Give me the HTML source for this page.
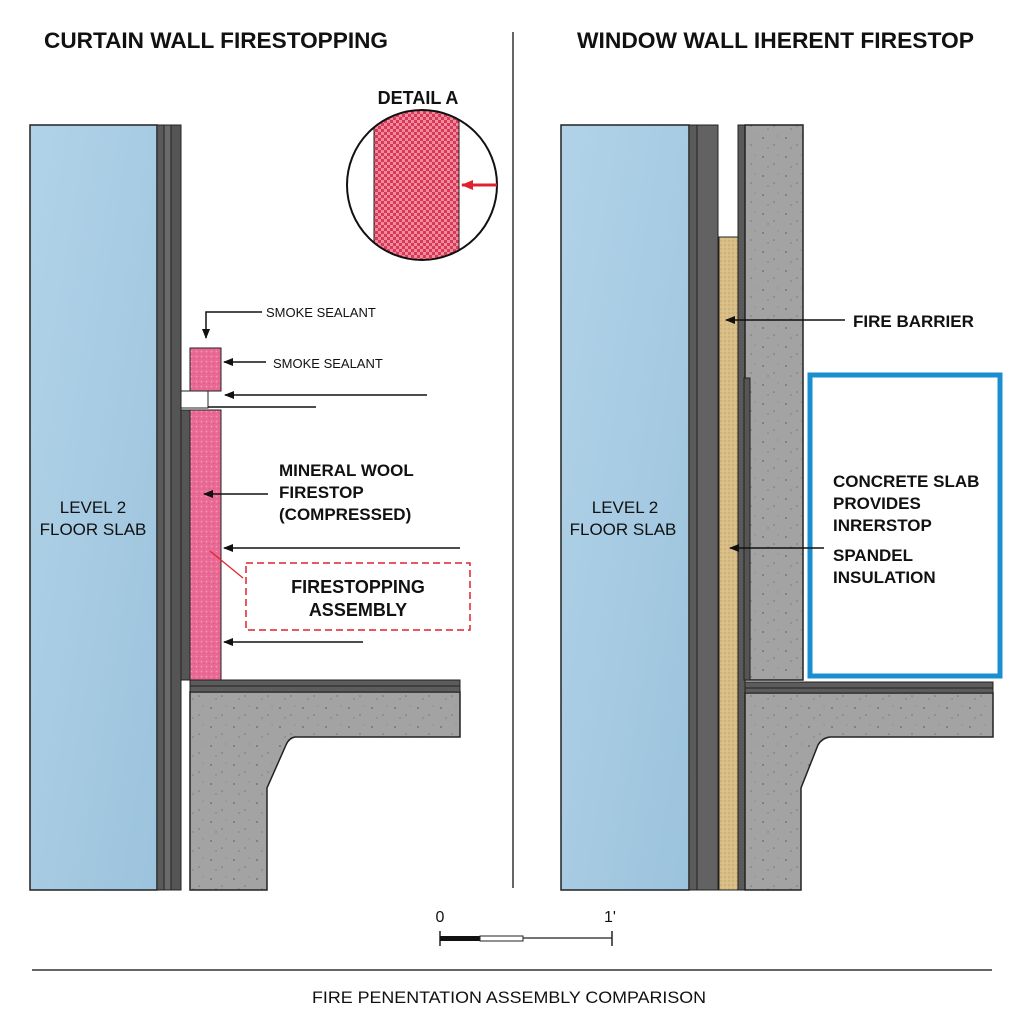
<!DOCTYPE html>
<html><head><meta charset="utf-8"><style>html,body{margin:0;padding:0;background:#fff}svg{display:block}text{font-family:"Liberation Sans",sans-serif;fill:#111}</style></head>
<body>
<svg width="1024" height="1024" viewBox="0 0 1024 1024" xmlns="http://www.w3.org/2000/svg">
<defs>
<linearGradient id="gl" x1="0" y1="0" x2="1" y2="1"><stop offset="0" stop-color="#b1d3e8"/><stop offset="1" stop-color="#9cc3dd"/></linearGradient>
<pattern id="spk" width="23" height="19" patternUnits="userSpaceOnUse"><rect width="23" height="19" fill="#a3a3a3"/><circle cx="4" cy="5" r="0.9" fill="#666"/><circle cx="15" cy="12" r="0.8" fill="#777"/><circle cx="19" cy="3" r="0.6" fill="#888"/><circle cx="9" cy="15" r="0.6" fill="#6a6a6a"/></pattern>
<pattern id="pk" width="5" height="5" patternUnits="userSpaceOnUse"><rect width="5" height="5" fill="#e96b95"/><circle cx="1.5" cy="1.5" r="0.8" fill="#f59bbb"/><circle cx="4" cy="3.5" r="0.6" fill="#d85582"/></pattern>
<pattern id="chk" width="6" height="6" patternUnits="userSpaceOnUse"><rect width="6" height="6" fill="#f08aa0"/><rect width="3" height="3" fill="#d83a55"/><rect x="3" y="3" width="3" height="3" fill="#d83a55"/></pattern>
<pattern id="tan" width="4" height="4" patternUnits="userSpaceOnUse"><rect width="4" height="4" fill="#d8bd85"/><circle cx="1" cy="1" r="0.6" fill="#b89a5e"/><circle cx="3" cy="3" r="0.5" fill="#e8d3a4"/></pattern>
<marker id="ar" markerWidth="10" markerHeight="8" refX="9" refY="4" orient="auto" markerUnits="userSpaceOnUse"><path d="M0,0 L10,4 L0,8 Z" fill="#111"/></marker>
<marker id="arr" markerWidth="12" markerHeight="10" refX="11" refY="5" orient="auto" markerUnits="userSpaceOnUse"><path d="M0,0 L12,5 L0,10 Z" fill="#e0202f"/></marker>
</defs>

<!-- titles -->
<text x="44" y="48" font-size="22" font-weight="bold" textLength="344" lengthAdjust="spacingAndGlyphs">CURTAIN WALL FIRESTOPPING</text>
<text x="577" y="48" font-size="22" font-weight="bold" textLength="397" lengthAdjust="spacingAndGlyphs">WINDOW WALL IHERENT FIRESTOP</text>
<line x1="513" y1="32" x2="513" y2="888" stroke="#333" stroke-width="1.5"/>

<!-- LEFT -->
<rect x="30" y="125" width="127" height="765" fill="url(#gl)" stroke="#222" stroke-width="1.5"/>
<rect x="157" y="125" width="7" height="765" fill="#5a5a5a" stroke="#222" stroke-width="1"/>
<rect x="164" y="125" width="7" height="765" fill="#6a6a6a" stroke="#222" stroke-width="1"/>
<rect x="171" y="125" width="10" height="765" fill="#555" stroke="#222" stroke-width="1"/>
<text x="93" y="513" font-size="17" text-anchor="middle">LEVEL 2</text>
<text x="93" y="535" font-size="17" text-anchor="middle">FLOOR SLAB</text>

<rect x="190" y="348" width="31" height="43" fill="url(#pk)" stroke="#222" stroke-width="1"/>
<rect x="181" y="391" width="27" height="17" fill="#fff" stroke="#222" stroke-width="1"/>
<rect x="181" y="410" width="9" height="270" fill="#555" stroke="#222" stroke-width="1"/>
<rect x="190" y="410" width="31" height="270" fill="url(#pk)" stroke="#222" stroke-width="1"/>

<path d="M190,692 H460 V737 H295 Q289,738 286,745 L267,788 V890 H190 Z" fill="url(#spk)" stroke="#222" stroke-width="1.5"/>
<rect x="190" y="680" width="270" height="12" fill="#5c5c5c" stroke="#222" stroke-width="1"/>
<line x1="190" y1="686" x2="460" y2="686" stroke="#222" stroke-width="1"/>

<polyline points="262,312 206,312 206,338" fill="none" stroke="#111" stroke-width="1.5" marker-end="url(#ar)"/>
<text x="266" y="317" font-size="13">SMOKE SEALANT</text>
<line x1="266" y1="362" x2="224" y2="362" stroke="#111" stroke-width="1.5" marker-end="url(#ar)"/>
<text x="273" y="368" font-size="13">SMOKE SEALANT</text>
<line x1="427" y1="395" x2="225" y2="395" stroke="#111" stroke-width="1.5" marker-end="url(#ar)"/>
<line x1="208" y1="407" x2="316" y2="407" stroke="#111" stroke-width="1.5"/>
<text x="279" y="476" font-size="17" font-weight="bold">MINERAL WOOL</text>
<text x="279" y="498" font-size="17" font-weight="bold">FIRESTOP</text>
<text x="279" y="520" font-size="17" font-weight="bold">(COMPRESSED)</text>
<line x1="268" y1="494" x2="204" y2="494" stroke="#111" stroke-width="1.5" marker-end="url(#ar)"/>
<line x1="460" y1="548" x2="224" y2="548" stroke="#111" stroke-width="1.5" marker-end="url(#ar)"/>
<line x1="243" y1="578" x2="210" y2="551" stroke="#e0202f" stroke-width="1.2"/>
<rect x="246" y="563" width="224" height="67" fill="none" stroke="#e0202f" stroke-width="1.5" stroke-dasharray="7,4"/>
<text x="358" y="593" font-size="18" font-weight="bold" text-anchor="middle">FIRESTOPPING</text>
<text x="358" y="616" font-size="18" font-weight="bold" text-anchor="middle">ASSEMBLY</text>
<line x1="363" y1="642" x2="224" y2="642" stroke="#111" stroke-width="1.5" marker-end="url(#ar)"/>

<!-- detail A -->
<text x="418" y="104" font-size="18" font-weight="bold" text-anchor="middle">DETAIL A</text>
<clipPath id="cc"><circle cx="422" cy="185" r="75"/></clipPath>
<circle cx="422" cy="185" r="75" fill="#fff"/>
<rect x="374" y="100" width="85" height="170" fill="url(#chk)" stroke="#222" stroke-width="1" clip-path="url(#cc)"/>
<circle cx="422" cy="185" r="75" fill="none" stroke="#111" stroke-width="2"/>
<line x1="497" y1="185" x2="462" y2="185" stroke="#e0202f" stroke-width="3" marker-end="url(#arr)"/>

<!-- RIGHT -->
<rect x="561" y="125" width="128" height="765" fill="url(#gl)" stroke="#222" stroke-width="1.5"/>
<rect x="689" y="125" width="8" height="765" fill="#5a5a5a" stroke="#222" stroke-width="1"/>
<rect x="697" y="125" width="21" height="765" fill="#626262" stroke="#222" stroke-width="1"/>
<rect x="719" y="237" width="19" height="653" fill="url(#tan)" stroke="#222" stroke-width="1"/>
<rect x="738" y="125" width="7" height="765" fill="#5a5a5a" stroke="#222" stroke-width="1"/>
<rect x="745" y="125" width="58" height="555" fill="url(#spk)" stroke="#222" stroke-width="1.5"/>
<rect x="744" y="378" width="6" height="302" fill="#555" stroke="#222" stroke-width="1"/>
<path d="M745,693 H993 V737 H830 Q822,738 818,745 L801,788 V890 H745 Z" fill="url(#spk)" stroke="#222" stroke-width="1.5"/>
<rect x="745" y="682" width="248" height="11" fill="#5c5c5c" stroke="#222" stroke-width="1"/>
<line x1="745" y1="688" x2="993" y2="688" stroke="#222" stroke-width="1"/>
<text x="625" y="513" font-size="17" text-anchor="middle">LEVEL 2</text>
<text x="623" y="535" font-size="17" text-anchor="middle">FLOOR SLAB</text>

<line x1="845" y1="320" x2="726" y2="320" stroke="#111" stroke-width="1.5" marker-end="url(#ar)"/>
<text x="853" y="327" font-size="17" font-weight="bold">FIRE BARRIER</text>
<rect x="810" y="375" width="190" height="301" fill="#fff" stroke="#1a8fd0" stroke-width="5"/>
<text x="833" y="487" font-size="17" font-weight="bold">CONCRETE SLAB</text>
<text x="833" y="509" font-size="17" font-weight="bold">PROVIDES</text>
<text x="833" y="531" font-size="17" font-weight="bold">INRERSTOP</text>
<text x="833" y="561" font-size="17" font-weight="bold">SPANDEL</text>
<text x="833" y="583" font-size="17" font-weight="bold">INSULATION</text>
<line x1="824" y1="548" x2="730" y2="548" stroke="#111" stroke-width="1.5" marker-end="url(#ar)"/>

<!-- scale -->
<text x="440" y="922" font-size="16" text-anchor="middle">0</text>
<text x="610" y="922" font-size="16" text-anchor="middle">1'</text>
<line x1="440" y1="938" x2="612" y2="938" stroke="#222" stroke-width="1.2"/>
<line x1="440" y1="931" x2="440" y2="946" stroke="#222" stroke-width="1.5"/>
<line x1="612" y1="931" x2="612" y2="946" stroke="#222" stroke-width="1.5"/>
<rect x="440" y="936" width="40" height="5" fill="#111"/>
<rect x="480" y="936" width="43" height="5" fill="#fff" stroke="#222" stroke-width="1"/>

<line x1="32" y1="970" x2="992" y2="970" stroke="#333" stroke-width="1.5"/>
<text x="509" y="1003" font-size="17" text-anchor="middle" textLength="394" lengthAdjust="spacingAndGlyphs">FIRE PENENTATION ASSEMBLY COMPARISON</text>
</svg>
</body></html>
